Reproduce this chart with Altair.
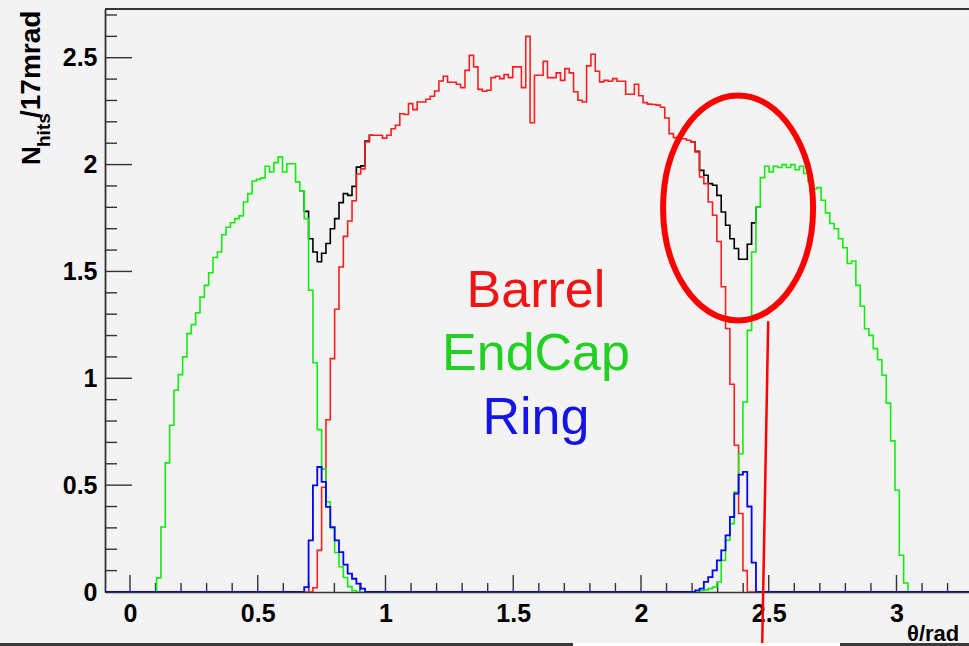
import altair as alt
import pandas as pd

# ---------------------------------------------------------------------------
# Histogram binning: 200 bins of 17 mrad covering theta = -0.1 .. 3.3 rad
# ---------------------------------------------------------------------------
THETA_LO = -0.1
BIN_WIDTH = 0.017
N_BINS = 200

# Bin contents (N_hits per 17 mrad).  Every run starts at the given bin index;
# all remaining bins are empty.
endcap_left_first = 12
endcap_left = [0.066, 0.304, 0.604, 0.780, 0.944, 1.017, 1.100, 1.209, 1.251, 1.306,
               1.380, 1.435, 1.494, 1.565, 1.591, 1.672, 1.707, 1.728, 1.747, 1.760,
               1.825, 1.864, 1.923, 1.931, 1.938, 1.992, 1.965, 2.009, 2.036, 1.965,
               2.004, 2.004, 1.919, 1.875, 1.747, 1.412, 1.073, 0.760, 0.575, 0.422,
               0.300, 0.185, 0.118, 0.068, 0.025, 0.006]

endcap_right_first = 137
endcap_right = [0.006, 0.010, 0.016, 0.023, 0.047, 0.148, 0.242, 0.320, 0.468, 0.647,
                0.889, 1.224, 1.591, 1.800, 1.939, 1.992, 1.965, 1.992, 1.986, 2.000,
                1.986, 2.000, 1.976, 1.992, 1.958, 1.919, 1.887, 1.892, 1.833, 1.774,
                1.724, 1.700, 1.653, 1.611, 1.537, 1.549, 1.435, 1.337, 1.232, 1.201,
                1.139, 1.087, 1.014, 0.884, 0.707, 0.476, 0.172, 0.042]

barrel_first = 48
barrel = [0.020, 0.195, 0.490, 0.806, 1.092, 1.323, 1.521, 1.664, 1.736, 1.831,
          1.956, 1.980, 2.106, 2.137, 2.137, 2.137, 2.124, 2.137, 2.168, 2.184,
          2.238, 2.234, 2.285, 2.257, 2.293, 2.293, 2.306, 2.320, 2.344, 2.391,
          2.413, 2.385, 2.385, 2.376, 2.360, 2.441, 2.511, 2.457, 2.352, 2.343,
          2.348, 2.407, 2.413, 2.402, 2.421, 2.407, 2.457, 2.457, 2.360, 2.600,
          2.196, 2.418, 2.418, 2.483, 2.407, 2.407, 2.429, 2.394, 2.449, 2.429,
          2.341, 2.301, 2.293, 2.462, 2.516, 2.437, 2.387, 2.394, 2.390, 2.402,
          2.390, 2.390, 2.329, 2.329, 2.376, 2.322, 2.290, 2.283, 2.281, 2.278,
          2.268, 2.218, 2.145, 2.126, 2.126, 2.121, 2.114, 2.106, 2.059, 1.942,
          1.911, 1.825, 1.763, 1.640, 1.428, 1.233, 0.972, 0.687, 0.367, 0.100]

ring_left_first = 46
ring_left = [0.023, 0.242, 0.499, 0.585, 0.515, 0.398, 0.304, 0.242, 0.187, 0.128,
             0.086, 0.062, 0.039, 0.016]

ring_right_first = 136
ring_right = [0.008, 0.016, 0.047, 0.070, 0.101, 0.148, 0.195, 0.265, 0.351, 0.460,
              0.549, 0.562, 0.400, 0.137]

# Sum of all sub-detectors in the two transition regions
total_left_first = 45
total_left = [1.875, 1.781, 1.653, 1.591, 1.545, 1.585, 1.631, 1.700, 1.747, 1.822,
              1.864, 1.856, 1.898, 1.988, 1.994, 2.110, 2.137]

total_right_first = 135
total_right = [2.106, 2.062, 1.973, 1.950, 1.911, 1.903, 1.856, 1.778, 1.716, 1.653,
               1.607, 1.557, 1.557, 1.627, 1.727, 1.800]

# Axis labelling
X_LABELS = [0, 0.5, 1, 1.5, 2, 2.5, 3]
Y_LABELS = [0, 0.5, 1, 1.5, 2, 2.5]
X_TICKS_MINOR = [round(0.1 * i, 1) for i in range(33) if i % 5]
Y_TICKS_MINOR = [round(0.1 * i, 1) for i in range(28) if i % 5]

# Annotations
region_names = ["Barrel", "EndCap", "Ring"]
region_colors = ["#f01414", "#22d022", "#1414e6"]
region_theta = [1.589, 1.589, 1.589]
region_n = [1.332, 1.037, 0.738]

# Highlighted transition region and pointer line
highlight_theta, highlight_n = 2.380, 1.797
pointer_theta = [2.498, 2.474]
pointer_n = [1.267, -0.27]

# ---------------------------------------------------------------------------
W, H = 864, 583
X_MIN, X_MAX = -0.0978, 3.2838
Y_MAX = 2.728
FONT = "Liberation Sans"
AXIS_COLOR = "#333333"

xs = alt.Scale(domain=[X_MIN, X_MAX], nice=False, zero=False)
ys = alt.Scale(domain=[0, Y_MAX], nice=False, zero=False)


def full_hist(*runs):
    vals = [0.0] * N_BINS
    for first, run in runs:
        for i, v in enumerate(run):
            vals[first + i] = v
    return vals


def step_frame(first, values):
    # left bin edges plus the closing edge (repeats the last content)
    edges = [THETA_LO + BIN_WIDTH * (first + i) for i in range(len(values) + 1)]
    return pd.DataFrame({"theta": edges, "n": list(values) + [values[-1]]})


x_axis = alt.Axis(values=X_LABELS, format="~g", title=None, ticks=False, tickSize=0,
                  grid=False, domain=True, domainColor=AXIS_COLOR, domainWidth=1.6,
                  labelFont=FONT, labelFontWeight="bold", labelFontSize=25,
                  labelColor="#000000", labelPadding=9, labelBaseline="top",
                  labelAlign="center", labelFlush=False, labelOverlap=False)
y_axis = alt.Axis(values=Y_LABELS, format="~g", title=None, ticks=False, tickSize=0,
                  grid=False, domain=True, domainColor=AXIS_COLOR, domainWidth=1.8,
                  labelFont=FONT, labelFontWeight="bold", labelFontSize=25,
                  labelColor="#000000", labelPadding=8, labelBaseline="middle",
                  labelAlign="right", labelFlush=False, labelOverlap=False)


def X(field):
    return alt.X(field, type="quantitative", scale=xs, axis=x_axis)


def Y(field):
    return alt.Y(field, type="quantitative", scale=ys, axis=y_axis)


def hist_layer(df, color, width=1.6):
    return alt.Chart(df).mark_line(
        interpolate="step-after", color=color, strokeWidth=width, clip=True
    ).encode(x=X("theta"), y=Y("n"))


one = pd.DataFrame({"a": [0]})

# inward tick marks (ROOT style)
x_major = alt.Chart(pd.DataFrame({"v": X_LABELS})).mark_rule(
    color=AXIS_COLOR, strokeWidth=1.4).encode(
    x=X("v"), y=alt.value(H), y2=alt.value(H - 17))
x_minor = alt.Chart(pd.DataFrame({"v": X_TICKS_MINOR})).mark_rule(
    color=AXIS_COLOR, strokeWidth=1.4).encode(
    x=X("v"), y=alt.value(H), y2=alt.value(H - 9))
y_major = alt.Chart(pd.DataFrame({"v": Y_LABELS})).mark_rule(
    color=AXIS_COLOR, strokeWidth=1.4).encode(
    y=Y("v"), x=alt.value(0), x2=alt.value(27))
y_minor = alt.Chart(pd.DataFrame({"v": Y_TICKS_MINOR})).mark_rule(
    color=AXIS_COLOR, strokeWidth=1.4).encode(
    y=Y("v"), x=alt.value(0), x2=alt.value(12))

frame_top = alt.Chart(one).mark_rule(color=AXIS_COLOR, strokeWidth=2).encode(
    x=alt.value(0), x2=alt.value(W), y=alt.value(0))

# histograms
total_l = hist_layer(step_frame(total_left_first, total_left), "#000000")
total_r = hist_layer(step_frame(total_right_first, total_right), "#000000")
barrel_h = hist_layer(step_frame(0, full_hist((barrel_first, barrel))), "#ff1e1e")
endcap_h = hist_layer(step_frame(0, full_hist((endcap_left_first, endcap_left),
                                              (endcap_right_first, endcap_right))), "#10ee10")
ring_h = hist_layer(step_frame(0, full_hist((ring_left_first, ring_left),
                                            (ring_right_first, ring_right))), "#0000ff",
                    width=1.8)

# region names
names_df = pd.DataFrame({"name": region_names, "color": region_colors,
                         "theta": region_theta, "n": region_n})
names = alt.Chart(names_df).mark_text(
    font=FONT, fontSize=52, align="center", baseline="alphabetic").encode(
    x=X("theta"), y=Y("n"),
    text="name:N", color=alt.Color("color:N", scale=None))

# ellipse around the Barrel/EndCap transition
ELLIPSE = ("M 0.6667 0 C 0.6667 0.5523 0.3682 1 0 1 C -0.3682 1 -0.6667 0.5523 -0.6667 0 "
           "C -0.6667 -0.5523 -0.3682 -1 0 -1 C 0.3682 -1 0.6667 -0.5523 0.6667 0 Z")
ellipse = alt.Chart(pd.DataFrame({"theta": [highlight_theta], "n": [highlight_n]})).mark_point(
    shape=ELLIPSE, size=225 * 225, filled=False, color="#ff0000", strokeWidth=6,
    opacity=1, clip=False).encode(x=X("theta"), y=Y("n"))

pointer = alt.Chart(pd.DataFrame({"t1": [pointer_theta[0]], "t2": [pointer_theta[1]],
                                  "n1": [pointer_n[0]], "n2": [pointer_n[1]]})).mark_rule(
    color="#ff0000", strokeWidth=2.5, clip=False).encode(
    x=X("t1"), x2="t2:Q", y=Y("n1"), y2="n2:Q")


# axis titles (y title built from main text + subscript)
def label(text, x, y, size, angle=0, weight="bold"):
    return alt.Chart(one).mark_text(
        text=text, font=FONT, fontSize=size, fontWeight=weight, angle=angle,
        align="left", baseline="alphabetic", color="#000000").encode(
        x=alt.value(x), y=alt.value(y))


ytitle_n = label("N", -65, 156, 26, angle=270)
ytitle_sub = label("hits", -55, 138, 19, angle=270)
ytitle_rest = label("/17mrad", -65, 109, 28, angle=270)
xtitle = label("θ/rad", 802, 632, 22)

# strip along the bottom edge
strip_l = alt.Chart(one).mark_rule(color="#3a3a3a", strokeWidth=3).encode(
    x=alt.value(-105), x2=alt.value(468), y=alt.value(635.5))
strip_m = alt.Chart(one).mark_rule(color="#ffffff", strokeWidth=3).encode(
    x=alt.value(468), x2=alt.value(735), y=alt.value(635.5))
strip_r = alt.Chart(one).mark_rule(color="#3a3a3a", strokeWidth=3).encode(
    x=alt.value(735), x2=alt.value(W + 10), y=alt.value(635.5))

chart = alt.layer(
    x_major, x_minor, y_major, y_minor, frame_top,
    total_l, total_r, barrel_h, endcap_h, ring_h,
    names, ellipse, pointer,
    strip_l, strip_m, strip_r,
    ytitle_n, ytitle_sub, ytitle_rest, xtitle,
).properties(
    width=W, height=H,
    padding={"left": 105, "top": 9, "right": 0, "bottom": 54},
    autosize=alt.AutoSizeParams(type="none"),
    background="#f3f3f3",
).configure_view(stroke=None)

chart.save("out.html", embed_options={"renderer": "svg", "actions": False})
